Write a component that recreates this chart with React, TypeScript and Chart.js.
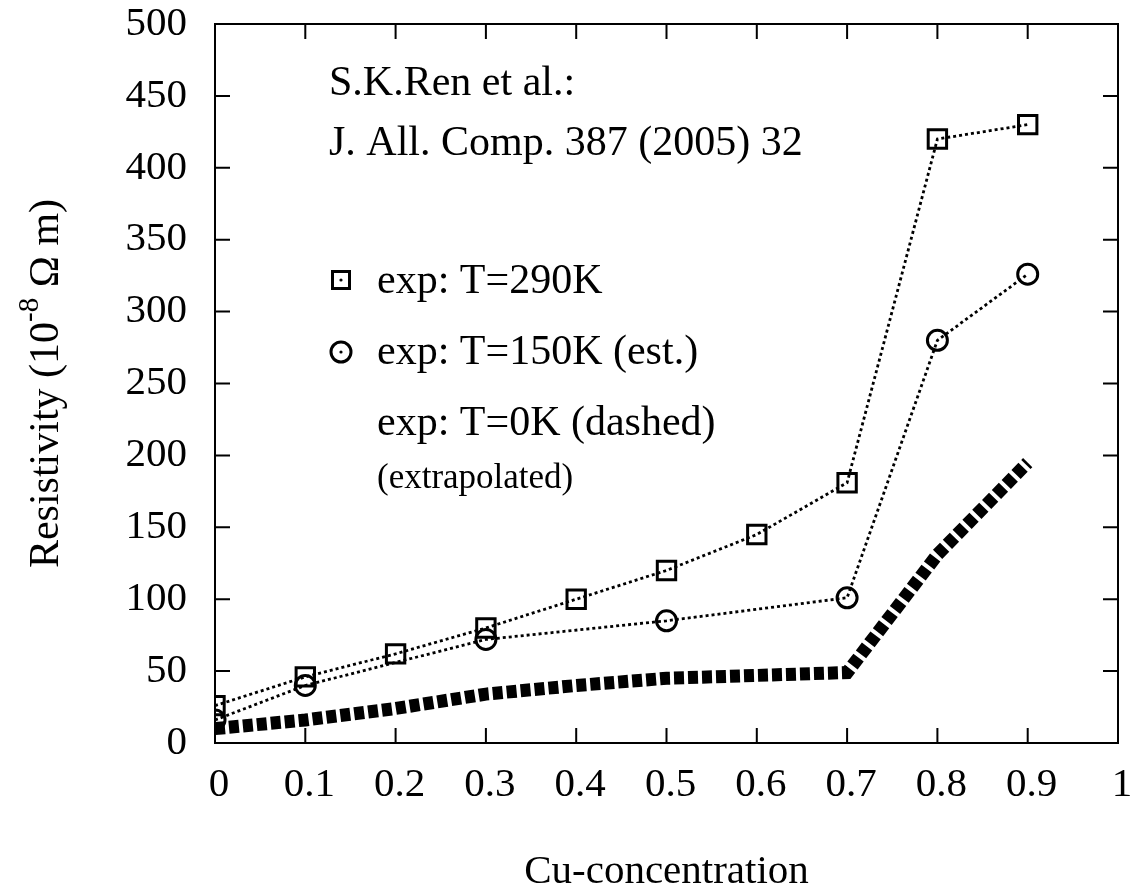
import React, { useEffect, useRef } from 'react';
import { Chart, registerables } from 'chart.js';

Chart.register(...registerables);

const FONT = "'Liberation Serif', 'Times New Roman', serif";

// Tick values and labels
const xTickValues = [0, 0.1, 0.2, 0.3, 0.4, 0.5, 0.6, 0.7, 0.8, 0.9, 1];
const xTickLabels = ['0', '0.1', '0.2', '0.3', '0.4', '0.5', '0.6', '0.7', '0.8', '0.9', '1'];
const yTickValues = [0, 50, 100, 150, 200, 250, 300, 350, 400, 450, 500];
const yTickLabels = ['0', '50', '100', '150', '200', '250', '300', '350', '400', '450', '500'];

// Series: T = 290 K (squares)
const conc290 = [0, 0.1, 0.2, 0.3, 0.4, 0.5, 0.6, 0.7, 0.8, 0.9];
const rho290 = [26, 46, 62, 80, 100, 120, 145, 181, 420, 430];

// Series: T = 150 K (est.) (circles)
const conc150 = [0, 0.1, 0.3, 0.5, 0.7, 0.8, 0.9];
const rho150 = [16, 40, 72, 85, 101, 280, 326];

// Series: T = 0 K (extrapolated, thick dashed)
const conc0 = [0, 0.1, 0.2, 0.3, 0.4, 0.5, 0.6, 0.7, 0.8, 0.9];
const rho0 = [10, 16, 24, 34, 40, 45, 47, 49, 131, 195];

// Text
const xTitle = 'Cu-concentration';
const yTitleMain = 'Resistivity (10';
const yTitleSup = '-8';
const yTitleEnd = ' \u03A9 m)';
const refLines = ['S.K.Ren et al.:', 'J. All. Comp. 387 (2005) 32'];
const legendLabels = ['exp: T=290K', 'exp: T=150K (est.)', 'exp: T=0K (dashed)', '(extrapolated)'];

const toPoints = (xs: number[], ys: number[]) => xs.map((x, i) => ({ x, y: ys[i] }));

const framePlugin = {
  id: 'frameTicks',
  beforeDatasetsDraw(chart: any) {
    const { ctx, chartArea: a, scales } = chart;
    ctx.save();
    ctx.strokeStyle = '#000';
    ctx.lineWidth = 2;
    ctx.strokeRect(a.left, a.top, a.right - a.left, a.bottom - a.top);
    const tl = 15;
    ctx.beginPath();
    xTickValues.forEach((v) => {
      const px = scales.x.getPixelForValue(v);
      ctx.moveTo(px, a.bottom);
      ctx.lineTo(px, a.bottom - tl);
      ctx.moveTo(px, a.top);
      ctx.lineTo(px, a.top + tl);
    });
    yTickValues.forEach((v) => {
      const py = scales.y.getPixelForValue(v);
      ctx.moveTo(a.left, py);
      ctx.lineTo(a.left + tl, py);
      ctx.moveTo(a.right, py);
      ctx.lineTo(a.right - tl, py);
    });
    ctx.stroke();
    ctx.restore();
  },
  afterDraw(chart: any) {
    const { ctx, chartArea: a } = chart;
    ctx.save();
    ctx.fillStyle = '#000';
    ctx.strokeStyle = '#000';

    // Reference text
    ctx.font = `42px ${FONT}`;
    ctx.textAlign = 'left';
    ctx.textBaseline = 'alphabetic';
    ctx.fillText(refLines[0], 329, 95);
    ctx.fillText(refLines[1], 329, 155);

    // Legend
    const tx = 377;
    ctx.fillText(legendLabels[0], tx, 293);
    ctx.fillText(legendLabels[1], tx, 364);
    ctx.fillText(legendLabels[2], tx, 435);
    ctx.font = `35px ${FONT}`;
    ctx.fillText(legendLabels[3], tx, 488);

    ctx.lineWidth = 3;
    // square sample
    const sx = 341, sy = 280, half = 8.5;
    ctx.strokeRect(sx - half, sy - half, half * 2, half * 2);
    ctx.beginPath();
    ctx.arc(sx, sy, 1.6, 0, Math.PI * 2);
    ctx.fill();
    // circle sample
    const cx = 341, cy = 352;
    ctx.beginPath();
    ctx.arc(cx, cy, 10, 0, Math.PI * 2);
    ctx.stroke();
    ctx.beginPath();
    ctx.arc(cx, cy, 1.6, 0, Math.PI * 2);
    ctx.fill();

    // X axis title
    ctx.font = `41px ${FONT}`;
    ctx.textAlign = 'center';
    ctx.fillText(xTitle, (a.left + a.right) / 2, 883);

    // Y axis title (rotated with superscript)
    const mainFont = `42px ${FONT}`;
    const supFont = `29px ${FONT}`;
    ctx.font = mainFont;
    const w1 = ctx.measureText(yTitleMain).width;
    const w3 = ctx.measureText(yTitleEnd).width;
    ctx.font = supFont;
    const w2 = ctx.measureText(yTitleSup).width;
    const total = w1 + w2 + w3;
    ctx.translate(58, (a.top + a.bottom) / 2);
    ctx.rotate(-Math.PI / 2);
    ctx.textAlign = 'left';
    let px = -total / 2;
    ctx.font = mainFont;
    ctx.fillText(yTitleMain, px, 0);
    px += w1;
    ctx.font = supFont;
    ctx.fillText(yTitleSup, px, -20);
    px += w2;
    ctx.font = mainFont;
    ctx.fillText(yTitleEnd, px, 0);

    ctx.restore();
  },
};

export default function App() {
  const canvasRef = useRef<HTMLCanvasElement | null>(null);

  useEffect(() => {
    if (!canvasRef.current) return;
    const chart = new Chart(canvasRef.current, {
      type: 'line',
      data: {
        datasets: [
          {
            label: legendLabels[0],
            data: toPoints(conc290, rho290),
            borderColor: '#000',
            borderWidth: 2.8,
            borderDash: [3, 3],
            pointStyle: 'rect',
            pointRadius: 13,
            pointBorderWidth: 3,
            pointBorderColor: '#000',
            pointBackgroundColor: 'rgba(0,0,0,0)',
            tension: 0,
          },
          {
            label: legendLabels[1],
            data: toPoints(conc150, rho150),
            borderColor: '#000',
            borderWidth: 2.8,
            borderDash: [3, 3],
            pointStyle: 'circle',
            pointRadius: 10,
            pointBorderWidth: 3,
            pointBorderColor: '#000',
            pointBackgroundColor: 'rgba(0,0,0,0)',
            tension: 0,
          },
          {
            label: legendLabels[2],
            data: toPoints(conc0, rho0),
            borderColor: '#000',
            borderWidth: 13,
            borderDash: [10, 4],
            borderCapStyle: 'butt',
            borderJoinStyle: 'miter',
            pointRadius: 0,
            tension: 0,
          },
        ],
      },
      options: {
        animation: false,
        responsive: false,
        maintainAspectRatio: false,
        events: [],
        layout: { padding: { top: 24, right: 14, left: 0, bottom: 0 } },
        plugins: {
          legend: { display: false },
          tooltip: { enabled: false },
          title: { display: false },
        },
        scales: {
          x: {
            type: 'linear',
            min: 0,
            max: 1,
            grid: { display: false, drawTicks: false },
            border: { display: false },
            afterBuildTicks: (scale: any) => {
              scale.ticks = xTickValues.map((v) => ({ value: v }));
            },
            afterFit: (scale: any) => {
              scale.height = 148;
              scale.paddingLeft = 0;
              scale.paddingRight = 0;
              scale.paddingTop = 0;
              scale.paddingBottom = 0;
            },
            ticks: {
              autoSkip: false,
              maxRotation: 0,
              padding: 22,
              labelOffset: 4,
              color: '#000',
              font: { family: FONT, size: 41, lineHeight: 1 },
              callback: (_v: any, i: number) => xTickLabels[i],
            },
          },
          y: {
            type: 'linear',
            min: 0,
            max: 500,
            grid: { display: false, drawTicks: false },
            border: { display: false },
            afterBuildTicks: (scale: any) => {
              scale.ticks = yTickValues.map((v) => ({ value: v }));
            },
            afterFit: (scale: any) => {
              scale.width = 215;
              scale.paddingLeft = 0;
              scale.paddingRight = 0;
              scale.paddingTop = 0;
              scale.paddingBottom = 0;
            },
            ticks: {
              autoSkip: false,
              padding: 28,
              color: '#000',
              font: { family: FONT, size: 41, lineHeight: 1 },
              callback: (_v: any, i: number) => yTickLabels[i],
            },
          },
        },
      },
      plugins: [framePlugin],
    } as any);
    return () => chart.destroy();
  }, []);

  return (
    <div style={{ position: 'absolute', left: 0, top: 0, width: 1134, height: 891, background: '#fff' }}>
      <canvas ref={canvasRef} width={1134} height={891} style={{ display: 'block' }} />
    </div>
  );
}
